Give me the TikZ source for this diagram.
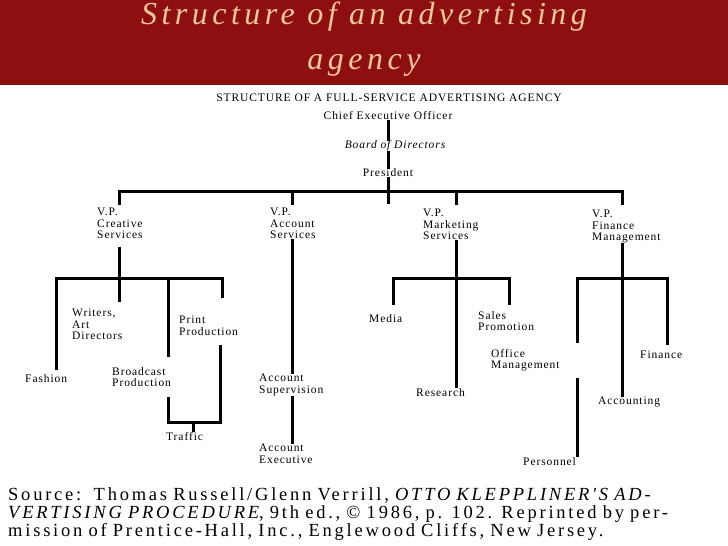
\documentclass[tikz,border=0pt]{standalone}
\usepackage{fontspec}
\setmainfont{Liberation Serif}
\newfontfamily\wide[LetterSpace=8]{Liberation Serif}
\newfontfamily\widest[LetterSpace=15]{Liberation Serif}
\newfontfamily\titlefont[LetterSpace=14]{Liberation Serif}
\definecolor{banner}{HTML}{8E0F10}
\definecolor{titletext}{HTML}{F3C79A}
\begin{document}
\begin{tikzpicture}[x=1pt,y=-1pt,
      unit/.style={inner sep=0pt, align=left, anchor=north west, font=\wide\fontsize{11.5}{11.5}\selectfont},
      top/.style={inner sep=0pt, anchor=center, font=\wide\fontsize{11.5}{11.5}\selectfont},
      link/.style={line width=3pt}]
      \useasboundingbox (0,0) rectangle (728,546);
      \fill[white] (0,0) rectangle (728,546);
      \fill[banner] (0,0) rectangle (728,85);
      \node[font=\titlefont\itshape\fontsize{32}{45}\selectfont, text=titletext, align=center](title) at (364,39){Structure of an advertising\\agency};
      \node[top](head) at (389,98){STRUCTURE OF A FULL-SERVICE ADVERTISING AGENCY};
      \node[top](ceo) at (388,116){Chief Executive Officer};
      \node[top, font=\wide\itshape\fontsize{11.5}{11.5}\selectfont](board) at (395,146){Board of Directors};
      \node[top](pres) at (388,173){President};
      % vice presidents
      \node[unit](vpc) at (97,208){V.P.\\Creative\\Services};
      \node[unit](vpa) at (270,208){V.P.\\Account\\Services};
      \node[unit](vpm) at (423,209){V.P.\\Marketing\\Services};
      \node[unit](vpf) at (592,210){V.P.\\Finance\\Management};
      % departments
      \node[unit](writers) at (72,309){Writers,\\Art\\Directors};
      \node[unit](print) at (179,316){Print\\Production};
      \node[unit](fashion) at (25,374){Fashion};
      \node[unit](broad) at (112,367){Broadcast\\Production};
      \node[unit](traffic) at (166,432){Traffic};
      \node[unit](asup) at (259,374){Account\\Supervision};
      \node[unit](aexe) at (259,444){Account\\Executive};
      \node[unit](media) at (369,314){Media};
      \node[unit](sales) at (478,311){Sales\\Promotion};
      \node[unit](research) at (416,388){Research};
      \node[unit](office) at (491,349){Office\\Management};
      \node[unit](finance) at (640,351){Finance};
      \node[unit](acct) at (598,397){Accounting};
      \node[unit](pers) at (523,457){Personnel};
      % links
      \draw[link] (ceo.south -| 388,0) -- (board.north -| 388,0);
      \draw[link] (board.south -| 388,0) -- (pres.north -| 388,0);
      \draw[link] (pres.south -| 388,0) -- ++(0,27);
      \draw[link] (119,205) -- (119,191) -| (622,205);
      \draw[link] (292,191) -- (292,205);
      \draw[link] (456,191) -- (456,205);
      \draw[link] (119,247) -- (119,302);
      \draw[link] (56,370) -- (56,278) -| (222,298);
      \draw[link] (168,278) -- (168,357);
      \draw[link] (168,397) -- (168,422) -| (220,345);
      \draw[link] (193,422) -- (traffic.north -| 193,0);
      \draw[link] (vpa.south -| 292,0) -- (asup.north -| 292,0);
      \draw[link] (asup.south -| 292,0) -- (aexe.north -| 292,0);
      \draw[link] (vpm.south -| 456,0) -- (research.north -| 456,0);
      \draw[link] (393,305) -- (393,278) -| (509,305);
      \draw[link] (vpf.south -| 622,0) -- (acct.north -| 622,0);
      \draw[link] (577,343) -- (577,278) -| (667,345);
      \draw[link] (577,378) -- (pers.north -| 577,0);
      % source
      \node[unit, font=\widest\fontsize{18.5}{18}\selectfont, text width=716pt](source) at (8,487){\textsc{Source}:\, Thomas Russell/Glenn Verrill, \textit{OTTO KLEPPLINER'S AD-}\\\textit{VERTISING PROCEDURE}, 9th ed., \textcopyright{} 1986, p. 102. Reprinted by per-\\mission of Prentice-Hall, Inc., Englewood Cliffs, New Jersey.};
    \end{tikzpicture}
\end{document}
